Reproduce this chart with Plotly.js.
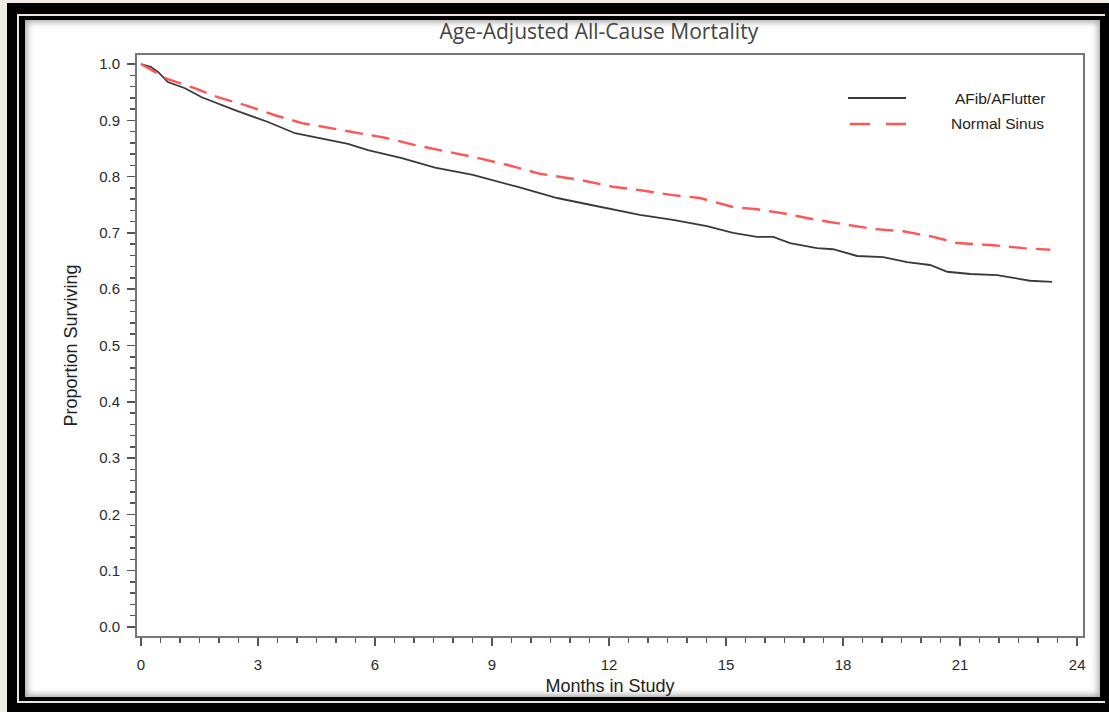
<!DOCTYPE html>
<html>
<head>
<meta charset="utf-8">
<script src="https://cdn.plot.ly/plotly-3.0.1.min.js"></script>
<style>
  html, body { margin: 0; padding: 0; width: 1109px; height: 712px; overflow: hidden; background: #efede5; }
  #black { position: absolute; left: 7px; top: 3px; right: 0px; bottom: 0px; background: #000; }
  #beige { position: absolute; left: 17px; top: 14px; right: 4px; bottom: 9px; border: 2px solid #e9e6dc; border-right: none; }
  #panel { position: absolute; left: 25px; top: 20px; width: 1075px; height: 677px; background: #fff;
           box-shadow: inset 0 0 6px 2px rgba(90,90,90,0.55); }
  #chart { position: absolute; left: 0px; top: 0px; width: 1109px; height: 712px; clip-path: inset(0 0 15px 0); }
</style>
</head>
<body>
<div id="black"></div>
<div id="beige"></div>
<div id="panel"></div>
<div id="chart"></div>
<script>
// Months in study and proportion surviving
const afibMonths = [0, 0.25, 0.44, 0.69, 1.13, 1.56, 2.41, 3.26, 3.95, 4.54, 5.31, 5.82, 6.69, 7.54, 8.51, 9.64, 10.67, 11.51, 12.79, 13.64, 14.51, 15.18, 15.79, 16.21, 16.64, 17.33, 17.74, 18.36, 19.03, 19.64, 20.23, 20.67, 21.26, 21.95, 22.36, 22.79, 23.36];
const afibSurv   = [1.0, 0.995, 0.986, 0.968, 0.957, 0.941, 0.918, 0.897, 0.877, 0.869, 0.858, 0.847, 0.833, 0.816, 0.803, 0.782, 0.762, 0.750, 0.732, 0.723, 0.712, 0.700, 0.693, 0.693, 0.682, 0.673, 0.671, 0.659, 0.657, 0.648, 0.643, 0.631, 0.627, 0.625, 0.620, 0.615, 0.613];

const sinusMonths = [0, 0.69, 1.38, 1.97, 2.67, 3.44, 4.13, 4.72, 5.49, 6.26, 7.03, 7.87, 8.51, 9.38, 10.23, 11.26, 12.1, 12.79, 13.64, 14.33, 15.18, 15.79, 16.46, 17.33, 18.0, 18.77, 19.54, 20.31, 20.92, 21.85, 22.62, 23.31];
const sinusSurv   = [1.0, 0.973, 0.957, 0.941, 0.927, 0.909, 0.895, 0.888, 0.879, 0.869, 0.856, 0.844, 0.835, 0.821, 0.805, 0.794, 0.782, 0.776, 0.767, 0.762, 0.746, 0.742, 0.735, 0.723, 0.716, 0.707, 0.703, 0.693, 0.682, 0.678, 0.673, 0.670];

const seriesNames = ["AFib/AFlutter", "Normal Sinus"];
const xTicks = [0, 3, 6, 9, 12, 15, 18, 21, 24];
const yTicks = [0.0, 0.1, 0.2, 0.3, 0.4, 0.5, 0.6, 0.7, 0.8, 0.9, 1.0];

const blackCol = "#3a3a3a";
const redCol = "rgb(255,85,85)";
const sans = "Liberation Sans, Arial, sans-serif";

const traces = [
  { x: afibMonths, y: afibSurv, name: seriesNames[0], type: "scatter", mode: "lines",
    line: { color: blackCol, width: 1.8, shape: "linear" } },
  { x: sinusMonths, y: sinusSurv, name: seriesNames[1], type: "scatter", mode: "lines",
    line: { color: redCol, width: 2.4, dash: "18px,9px", shape: "linear" } }
];

const tickFont = { family: sans, size: 15, color: "#2a2a2a" };

const layout = {
  width: 1109, height: 712,
  margin: { l: 137, r: 26, t: 55, b: 76, pad: 0 },
  paper_bgcolor: "rgba(0,0,0,0)",
  plot_bgcolor: "#ffffff",
  showlegend: false,
  title: { text: "Age-Adjusted All-Cause Mortality", x: 0.54, xanchor: "center", y: (712-32)/712, yanchor: "middle",
           font: { family: "Open Sans, sans-serif", size: 21, color: "#444" } },
  xaxis: {
    range: [-0.1, 24.15], tickmode: "array", tickvals: xTicks, ticktext: xTicks.map(String),
    ticks: "outside", ticklen: 8, tickwidth: 1.5, tickcolor: "#555",
    minor: { dtick: 0.5, tick0: 0, ticks: "outside", ticklen: 5, tickwidth: 1.5, tickcolor: "#555" },
    showline: true, linecolor: "#777", linewidth: 2, mirror: true,
    showgrid: false, zeroline: false, tickfont: tickFont, ticklabelstandoff: 6,
    title: { text: "Months in Study", standoff: 7,
             font: { family: sans, size: 18, color: "#222" } }
  },
  yaxis: {
    range: [-0.016, 1.016], tickmode: "array", tickvals: yTicks, ticktext: yTicks.map(v => v.toFixed(1)),
    ticks: "outside", ticklen: 8, tickwidth: 1.5, tickcolor: "#555",
    minor: { dtick: 0.02, tick0: 0, ticks: "outside", ticklen: 5, tickwidth: 1.5, tickcolor: "#555" },
    showline: true, linecolor: "#777", linewidth: 2, mirror: true,
    showgrid: false, zeroline: false, tickfont: tickFont, ticklabelstandoff: 4,
    title: { text: "Proportion Surviving", standoff: 17,
             font: { family: sans, size: 18, color: "#222" } }
  },
  shapes: [
    { type: "line", xref: "paper", yref: "paper", x0: (848-137)/946, x1: (906-137)/946,
      y0: (636-98)/581, y1: (636-98)/581, line: { color: blackCol, width: 1.8 } },
    { type: "line", xref: "paper", yref: "paper", x0: (850-137)/946, x1: (908-137)/946,
      y0: (636-124)/581, y1: (636-124)/581, line: { color: redCol, width: 2.4, dash: "20px,16px" } }
  ],
  annotations: [
    { xref: "paper", yref: "paper", x: (1047-137)/946, y: (636-98)/581, xanchor: "right", yanchor: "middle",
      text: seriesNames[0], showarrow: false, font: { family: sans, size: 15.5, color: "#222" } },
    { xref: "paper", yref: "paper", x: (1046-137)/946, y: (636-124)/581, xanchor: "right", yanchor: "middle",
      text: seriesNames[1], showarrow: false, font: { family: sans, size: 15.5, color: "#222" } }
  ]
};

Plotly.newPlot("chart", traces, layout, { displayModeBar: false, staticPlot: true });
</script>
</body>
</html>
